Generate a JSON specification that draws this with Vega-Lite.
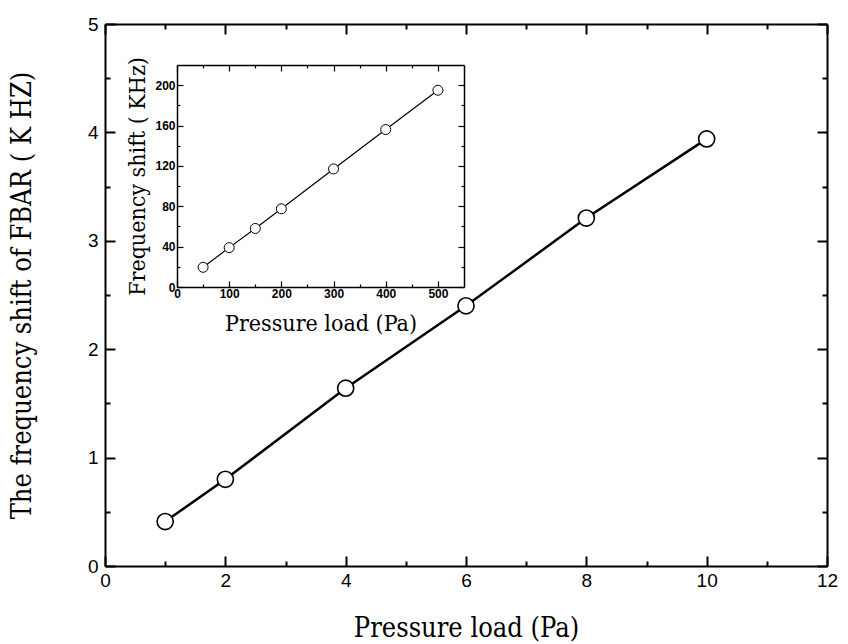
{
  "$schema": "https://vega.github.io/schema/vega-lite/v6.json",
  "width": 722,
  "height": 542,
  "autosize": {"type": "none"},
  "padding": {"left": 105, "top": 24, "right": 21, "bottom": 78},
  "background": "white",
  "config": {"view": {"stroke": null}, "axis": {"grid": false}},
  "datasets": {
    "main": [
      {"p": 1, "f": 0.41},
      {"p": 2, "f": 0.80},
      {"p": 4, "f": 1.64},
      {"p": 6, "f": 2.40},
      {"p": 8, "f": 3.21},
      {"p": 10, "f": 3.94}
    ],
    "inset": [
      {"p": 50, "f": 19.5},
      {"p": 100, "f": 39},
      {"p": 150, "f": 58},
      {"p": 200, "f": 77.5},
      {"p": 300, "f": 117},
      {"p": 400, "f": 156},
      {"p": 500, "f": 195}
    ]
  },
  "layer": [
    {
      "data": {"name": "main"},
      "layer": [
        {
          "mark": {"type": "line", "color": "black", "strokeWidth": 2.5},
          "encoding": {
            "x": {"field": "p", "type": "quantitative",
              "scale": {"domain": [0, 12], "nice": false, "zero": false},
              "axis": {"orient": "bottom", "values": [0,1,2,3,4,5,6,7,8,9,10,11,12],
                "labelExpr": "datum.value % 2 === 0 ? '' + datum.value : ''",
                "tickSize": {"condition": {"test": "datum.value % 2 === 0", "value": -10}, "value": -5},
                "tickWidth": 2, "tickColor": "black", "domainWidth": 2, "domainColor": "black",
                "labelFont": "Liberation Sans", "labelFontSize": 19, "labelColor": "black", "labelPadding": 15,
                "labelFlush": false, "labelOverlap": false,
                "title": "Pressure load (Pa)", "titleFont": "DejaVu Serif Condensed, Liberation Serif", "titleFontSize": 27,
                "titleFontWeight": "normal", "titleColor": "black", "titlePadding": 20}},
            "y": {"field": "f", "type": "quantitative",
              "scale": {"domain": [0, 5], "nice": false, "zero": false},
              "axis": {"orient": "left", "values": [0,0.5,1,1.5,2,2.5,3,3.5,4,4.5,5],
                "labelExpr": "datum.value % 1 === 0 ? '' + datum.value : ''",
                "tickSize": {"condition": {"test": "datum.value % 1 === 0", "value": -10}, "value": -5},
                "tickWidth": 2, "tickColor": "black", "domainWidth": 2, "domainColor": "black",
                "labelFont": "Liberation Sans", "labelFontSize": 19, "labelColor": "black", "labelPadding": 17,
                "labelFlush": false, "labelOverlap": false,
                "title": "The frequency shift of FBAR ( K HZ)", "titleFont": "DejaVu Serif Condensed, Liberation Serif", "titleFontSize": 27,
                "titleFontWeight": "normal", "titleColor": "black", "titlePadding": 51}}
          }
        },
        {
          "mark": {"type": "point", "shape": "circle", "filled": true, "fill": "white", "stroke": "black", "strokeWidth": 1.6, "size": 260, "opacity": 1},
          "encoding": {
            "x": {"field": "p", "type": "quantitative",
              "scale": {"domain": [0, 12], "nice": false, "zero": false},
              "axis": {"orient": "top", "values": [0,1,2,3,4,5,6,7,8,9,10,11,12], "labels": false,
                "tickSize": {"condition": {"test": "datum.value % 2 === 0", "value": -10}, "value": -5},
                "tickWidth": 2, "tickColor": "black", "domainWidth": 2, "domainColor": "black", "title": null}},
            "y": {"field": "f", "type": "quantitative",
              "scale": {"domain": [0, 5], "nice": false, "zero": false},
              "axis": {"orient": "right", "values": [0,0.5,1,1.5,2,2.5,3,3.5,4,4.5,5], "labels": false,
                "tickSize": {"condition": {"test": "datum.value % 1 === 0", "value": -10}, "value": -5},
                "tickWidth": 2, "tickColor": "black", "domainWidth": 2, "domainColor": "black", "title": null}}
          }
        }
      ],
      "resolve": {"axis": {"x": "independent", "y": "independent"}}
    },
    {
      "data": {"name": "inset"},
      "layer": [
        {
          "mark": {"type": "line", "color": "black", "strokeWidth": 1.2},
          "encoding": {
            "x": {"field": "p", "type": "quantitative",
              "scale": {"domain": [0, 550], "nice": false, "zero": false, "range": [72, 359]},
              "axis": {"orient": "bottom", "offset": -279, "values": [0,50,100,150,200,250,300,350,400,450,500],
                "labelExpr": "datum.value % 100 === 0 ? '' + datum.value : ''",
                "tickSize": {"condition": {"test": "datum.value % 100 === 0", "value": -6}, "value": -3},
                "tickWidth": 1.2, "tickColor": "black", "domainWidth": 1.5, "domainColor": "black",
                "labelFont": "Liberation Sans", "labelFontSize": 12, "labelFontWeight": "bold", "labelColor": "black", "labelPadding": 7,
                "labelFlush": false, "labelOverlap": false,
                "title": "Pressure load (Pa)", "titleFont": "DejaVu Serif Condensed, Liberation Serif", "titleFontSize": 23,
                "titleFontWeight": "normal", "titleColor": "black", "titlePadding": 10}},
            "y": {"field": "f", "type": "quantitative",
              "scale": {"domain": [0, 220], "nice": false, "zero": false, "range": [263, 41]},
              "axis": {"orient": "left", "offset": -72, "values": [0,20,40,60,80,100,120,140,160,180,200],
                "labelExpr": "datum.value % 40 === 0 ? '' + datum.value : ''",
                "tickSize": {"condition": {"test": "datum.value % 40 === 0", "value": -6}, "value": -3},
                "tickWidth": 1.2, "tickColor": "black", "domainWidth": 1.5, "domainColor": "black",
                "labelFont": "Liberation Sans", "labelFontSize": 12, "labelFontWeight": "bold", "labelColor": "black", "labelPadding": 8,
                "labelFlush": false, "labelOverlap": false,
                "title": "Frequency shift ( KHz)", "titleFont": "DejaVu Serif Condensed, Liberation Serif", "titleFontSize": 23,
                "titleFontWeight": "normal", "titleColor": "black", "titlePadding": 5}}
          }
        },
        {
          "mark": {"type": "point", "shape": "circle", "filled": true, "fill": "white", "stroke": "black", "strokeWidth": 1, "size": 100, "opacity": 1},
          "encoding": {
            "x": {"field": "p", "type": "quantitative",
              "scale": {"domain": [0, 550], "nice": false, "zero": false, "range": [72, 359]},
              "axis": {"orient": "top", "offset": -41, "values": [0,50,100,150,200,250,300,350,400,450,500], "labels": false,
                "tickSize": {"condition": {"test": "datum.value % 100 === 0", "value": -6}, "value": -3},
                "tickWidth": 1.2, "tickColor": "black", "domainWidth": 1.5, "domainColor": "black", "title": null}},
            "y": {"field": "f", "type": "quantitative",
              "scale": {"domain": [0, 220], "nice": false, "zero": false, "range": [263, 41]},
              "axis": {"orient": "right", "offset": -363, "values": [0,20,40,60,80,100,120,140,160,180,200], "labels": false,
                "tickSize": {"condition": {"test": "datum.value % 40 === 0", "value": -6}, "value": -3},
                "tickWidth": 1.2, "tickColor": "black", "domainWidth": 1.5, "domainColor": "black", "title": null}}
          }
        }
      ],
      "resolve": {"axis": {"x": "independent", "y": "independent"}}
    }
  ],
  "resolve": {"scale": {"x": "independent", "y": "independent"}, "axis": {"x": "independent", "y": "independent"}}
}
